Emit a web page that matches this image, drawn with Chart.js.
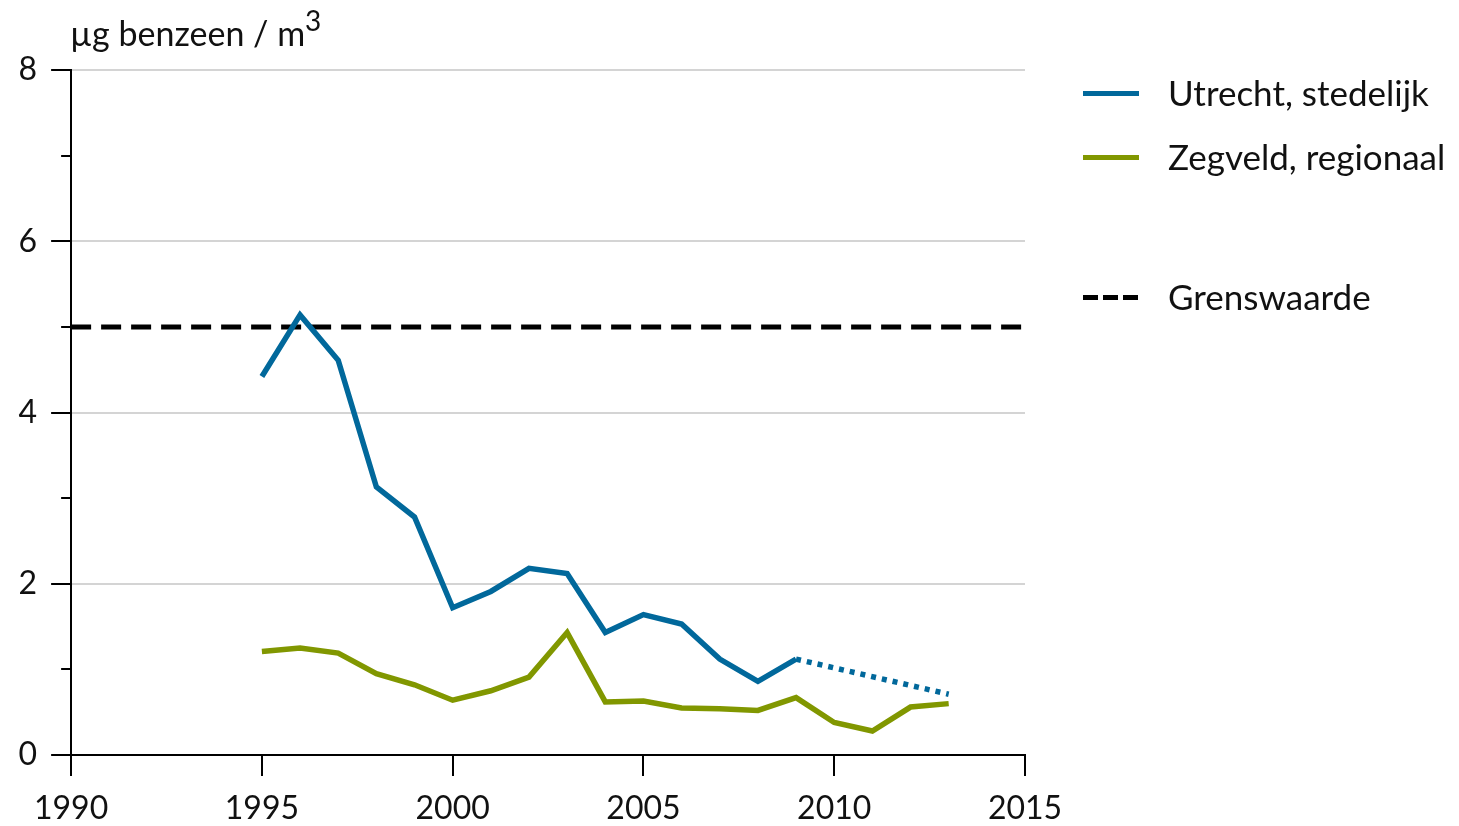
<!DOCTYPE html>
<html>
<head>
<meta charset="utf-8">
<script src="https://cdn.jsdelivr.net/npm/chart.js@4/dist/chart.umd.min.js"></script>
<style>
  html, body { margin:0; padding:0; background:#fff; }
  #wrap { position:relative; width:1459px; height:826px; font-family: Lato, "Open Sans", sans-serif; color:#111; }
  #chart { position:absolute; left:0; top:0; }
  #ytitle { position:absolute; left:70px; top:12px; font-size:34px; white-space:nowrap; }
  #ytitle sup { font-size:28px; position:relative; top:-6px; vertical-align:top; line-height:1; }
  .leg { position:absolute; left:1083px; font-size:35px; white-space:nowrap; }
  .leg .sw { position:absolute; left:0; width:56px; height:5px; top:-2px; }
  .leg .tx { position:absolute; left:85px; top:-22px; }
</style>
</head>
<body>
<div id="wrap">
  <canvas id="chart" width="1459" height="826"></canvas>
  <div id="ytitle">µg benzeen / m<sup>3</sup></div>
  <div class="leg" style="top:93px"><div class="sw" style="background:#01689B"></div><div class="tx">Utrecht, stedelijk</div></div>
  <div class="leg" style="top:157px"><div class="sw" style="background:#819700"></div><div class="tx">Zegveld, regionaal</div></div>
  <div class="leg" style="top:297px"><div class="sw" style="background:repeating-linear-gradient(to right,#000 0 15px,transparent 15px 20px)"></div><div class="tx">Grenswaarde</div></div>
</div>
<script>
const utrechtYears  = [1995,1996,1997,1998,1999,2000,2001,2002,2003,2004,2005,2006,2007,2008,2009,2013];
const utrechtValues = [4.42,5.14,4.61,3.13,2.78,1.72,1.91,2.18,2.12,1.43,1.64,1.53,1.12,0.86,1.12,0.71];
const zegveldYears  = [1995,1996,1997,1998,1999,2000,2001,2002,2003,2004,2005,2006,2007,2008,2009,2010,2011,2012,2013];
const zegveldValues = [1.21,1.25,1.19,0.95,0.82,0.64,0.75,0.91,1.43,0.62,0.63,0.55,0.54,0.52,0.67,0.38,0.28,0.56,0.60];
const grensYears    = [1990,2015];
const grensValues   = [5,5];
const xTickValues   = [1990,1995,2000,2005,2010,2015];
const yMajorTicks   = [0,2,4,6,8];
const yMinorTicks   = [1,3,5,7];

const toXY = (xs, ys) => xs.map((x,i) => ({x, y: ys[i]}));
const FONT = 'Lato, "Open Sans", sans-serif';

const tickPlugin = {
  id: 'customTicks',
  afterDraw(chart) {
    const ctx = chart.ctx, xs = chart.scales.x, ys = chart.scales.y;
    const left = chart.chartArea.left, bottom = chart.chartArea.bottom;
    ctx.save();
    ctx.strokeStyle = '#000';
    ctx.lineWidth = 2;
    ctx.beginPath();
    xTickValues.forEach(v => { const p = Math.round(xs.getPixelForValue(v)); ctx.moveTo(p, bottom); ctx.lineTo(p, bottom + 21); });
    yMajorTicks.forEach(v => { const p = Math.round(ys.getPixelForValue(v)); ctx.moveTo(left, p); ctx.lineTo(left - 20, p); });
    yMinorTicks.forEach(v => { const p = Math.round(ys.getPixelForValue(v)); ctx.moveTo(left, p); ctx.lineTo(left - 10, p); });
    ctx.stroke();
    ctx.restore();
  }
};

new Chart(document.getElementById('chart'), {
  type: 'line',
  data: {
    datasets: [
      {
        label: 'Utrecht, stedelijk',
        data: toXY(utrechtYears, utrechtValues),
        borderColor: '#01689B',
        borderWidth: 5.5,
        pointRadius: 0,
        tension: 0,
        borderJoinStyle: 'miter',
        segment: { borderDash: c => c.p0.parsed.x >= 2009 ? [5,6] : undefined }
      },
      {
        label: 'Zegveld, regionaal',
        data: toXY(zegveldYears, zegveldValues),
        borderColor: '#819700',
        borderWidth: 5.5,
        pointRadius: 0,
        tension: 0,
        borderJoinStyle: 'miter'
      },
      {
        label: 'Grenswaarde',
        data: toXY(grensYears, grensValues),
        borderColor: '#000',
        borderWidth: 5,
        borderDash: [20,10],
        pointRadius: 0
      }
    ]
  },
  options: {
    responsive: false,
    animation: false,
    layout: { padding: { top: 70, right: 434, left: 0, bottom: 0 } },
    plugins: { legend: { display: false }, tooltip: { enabled: false } },
    scales: {
      x: {
        type: 'linear',
        min: 1990, max: 2015,
        afterBuildTicks: s => { s.ticks = xTickValues.map(v => ({value: v})); },
        afterFit: s => { s.height = 71; },
        ticks: { callback: v => String(v), color: '#111', font: { family: FONT, size: 32 }, padding: 34, maxRotation: 0, autoSkip: false },
        grid: { display: false, drawTicks: false },
        border: { display: true, color: '#000', width: 2 }
      },
      y: {
        min: 0, max: 8,
        afterBuildTicks: s => { s.ticks = [0,1,2,3,4,5,6,7,8].map(v => ({value: v})); },
        afterFit: s => { s.width = 70; },
        ticks: { callback: v => (yMajorTicks.includes(v) ? String(v) : ''), color: '#111', font: { family: FONT, size: 32 }, padding: 34, autoSkip: false },
        grid: { drawTicks: false, color: c => (c.tick && c.tick.value > 0 && c.tick.value % 2 === 0) ? '#d4d4d4' : 'rgba(0,0,0,0)', lineWidth: 2 },
        border: { display: true, color: '#000', width: 2 }
      }
    }
  },
  plugins: [tickPlugin]
});
</script>
</body>
</html>
